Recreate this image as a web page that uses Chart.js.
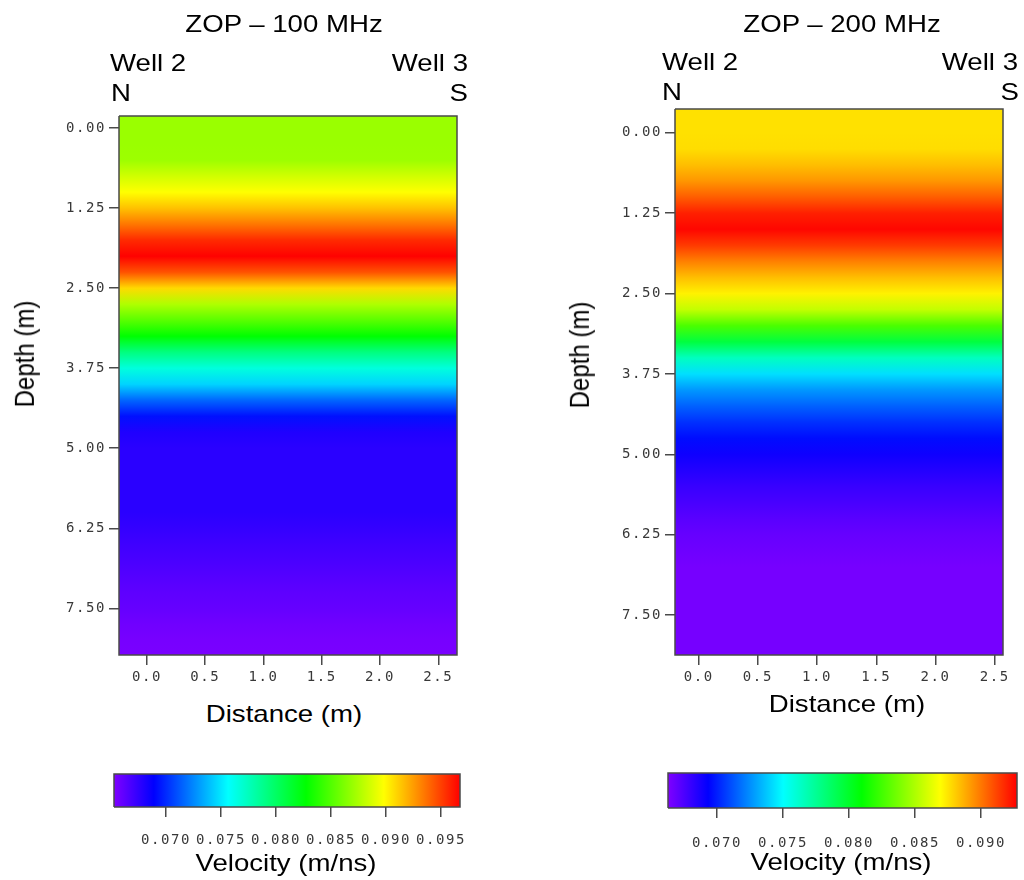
<!DOCTYPE html>
<html>
<head>
<meta charset="utf-8">
<script src="https://cdn.jsdelivr.net/npm/chart.js@4.4.0/dist/chart.umd.min.js"></script>
<style>
  body { margin: 0; background: #fff; }
  #page { position: relative; width: 1024px; height: 880px; overflow: hidden;
          font-family: "Liberation Sans", Arial, sans-serif; color: #000; }
  canvas { position: absolute; }
  .lbl { position: absolute; font-size: 24px; line-height: 24px; white-space: nowrap; }
  .c { width: 400px; text-align: center; transform: scaleX(1.15); }
  .l { transform: scaleX(1.15); transform-origin: left center; }
  .r { width: 200px; text-align: right; transform: scaleX(1.15); transform-origin: right center; }
  .v { transform: translate(-50%, -50%) rotate(-90deg) scaleY(1.15); }
</style>
</head>
<body>
<div id="page">
  <canvas id="heat100" width="500" height="700" style="left:0;top:0"></canvas>
  <canvas id="heat200" width="484" height="700" style="left:540px;top:0"></canvas>
  <canvas id="bar100" width="500" height="110" style="left:0;top:740px"></canvas>
  <canvas id="bar200" width="484" height="110" style="left:540px;top:740px"></canvas>

  <div class="lbl c" style="left:84px;top:12px">ZOP – 100 MHz</div>
  <div class="lbl l" style="left:110px;top:51px">Well 2</div>
  <div class="lbl r" style="left:268px;top:51px">Well 3</div>
  <div class="lbl l" style="left:111px;top:81px">N</div>
  <div class="lbl r" style="left:268px;top:81px">S</div>
  <div class="lbl v" style="left:25px;top:354px">Depth (m)</div>
  <div class="lbl c" style="left:84px;top:702px">Distance (m)</div>
  <div class="lbl c" style="left:86px;top:851px">Velocity (m/ns)</div>

  <div class="lbl c" style="left:642px;top:12px">ZOP – 200 MHz</div>
  <div class="lbl l" style="left:662px;top:50px">Well 2</div>
  <div class="lbl r" style="left:818px;top:50px">Well 3</div>
  <div class="lbl l" style="left:662px;top:80px">N</div>
  <div class="lbl r" style="left:819px;top:80px">S</div>
  <div class="lbl v" style="left:580px;top:355px">Depth (m)</div>
  <div class="lbl c" style="left:647px;top:692px">Distance (m)</div>
  <div class="lbl c" style="left:641px;top:850px">Velocity (m/ns)</div>
</div>
<script>
// depth samples of the 1D velocity profiles (m)
const depths = [0.00, 0.25, 0.50, 0.75, 1.00, 1.25, 1.50, 1.75, 2.00, 2.25, 2.50, 2.75,
                3.00, 3.25, 3.50, 3.75, 4.00, 4.25, 4.50, 4.75, 5.00, 5.25, 5.50, 5.75,
                6.00, 6.25, 6.50, 6.75, 7.00, 7.25, 7.50, 7.75, 8.00, 8.25];

// velocity (m/ns) at each depth, 100 MHz antennas
const vel100 = [0.0870, 0.0870, 0.0871, 0.0885, 0.0898, 0.0915, 0.0935, 0.0956, 0.0967, 0.0945,
                0.0908, 0.0876, 0.0852, 0.0827, 0.0792, 0.0766, 0.0745, 0.0716, 0.0693, 0.0680,
                0.0677, 0.0677, 0.0677, 0.0677, 0.0677, 0.0674, 0.0671, 0.0668, 0.0665, 0.0662,
                0.0660, 0.0657, 0.0655, 0.0654];

// velocity (m/ns) at each depth, 200 MHz antennas
const vel200 = [0.0876, 0.0877, 0.0884, 0.0893, 0.0906, 0.0920, 0.0926, 0.0914, 0.0898, 0.0884,
                0.0872, 0.0855, 0.0827, 0.0795, 0.0765, 0.0743, 0.0727, 0.0715, 0.0704, 0.0696,
                0.0690, 0.0685, 0.0680, 0.0676, 0.0672, 0.0669, 0.0667, 0.0665, 0.0665, 0.0665,
                0.0665, 0.0665, 0.0665, 0.0665];

// section extents [start, end]
const dist100 = [-0.24, 2.66];
const depth100 = [-0.19, 8.23];
const dist200 = [-0.20, 2.57];
const depth200 = [-0.37, 8.12];

// colour scale limits
const range100 = [0.06527, 0.09673];
const range200 = [0.06629, 0.09273];

// tick labels
const distanceTicks = [0.0, 0.5, 1.0, 1.5, 2.0, 2.5];
const depthTicks = [0.00, 1.25, 2.50, 3.75, 5.00, 6.25, 7.50];
const velTicks100 = [0.070, 0.075, 0.080, 0.085, 0.090, 0.095];
const velTicks200 = [0.070, 0.075, 0.080, 0.085, 0.090];

// rainbow colour map: violet - blue - cyan - green - yellow - red
const cmapPos = [0, 0.115, 0.33, 0.555, 0.78, 1];
const cmapRgb = [[127, 0, 255], [0, 0, 255], [0, 255, 255], [0, 255, 0], [255, 255, 0], [255, 0, 0]];

function cmap(t) {
    t = Math.min(1, Math.max(0, t));
    let i = 1;
    while (i < cmapPos.length - 1 && t > cmapPos[i]) i++;
    const f = (t - cmapPos[i - 1]) / (cmapPos[i] - cmapPos[i - 1]);
    const a = cmapRgb[i - 1], b = cmapRgb[i];
    const c = a.map((v, k) => Math.round(v + (b[k] - v) * f));
    return 'rgb(' + c.join(',') + ')';
}

const tickFont = { family: 'DejaVu Sans Mono', size: 14 };
const tickColor = '#383838';
const frameColor = '#4a4a4a';

// wider glyph spacing for the tick labels
const spacedTicks = {
    id: 'spacedTicks',
    beforeDraw(chart) { chart.ctx.letterSpacing = '1.6px'; }
};

function rect(xr, yr) {
    return [
        { x: xr[0], y: yr[0] }, { x: xr[1], y: yr[0] },
        { x: xr[1], y: yr[1] }, { x: xr[0], y: yr[1] },
        { x: xr[0], y: yr[0] }
    ];
}

function depthGradient(chart, vel, range) {
    if (!chart.chartArea) return null;
    const y = chart.scales.y;
    const d0 = depths[0], d1 = depths[depths.length - 1];
    const g = chart.ctx.createLinearGradient(0, y.getPixelForValue(d0), 0, y.getPixelForValue(d1));
    depths.forEach((d, i) => {
        g.addColorStop((d - d0) / (d1 - d0), cmap((vel[i] - range[0]) / (range[1] - range[0])));
    });
    return g;
}

function barGradient(chart) {
    if (!chart.chartArea) return null;
    const x = chart.scales.x;
    const g = chart.ctx.createLinearGradient(x.getPixelForValue(x.min), 0, x.getPixelForValue(x.max), 0);
    cmapPos.forEach((p, i) => g.addColorStop(p, 'rgb(' + cmapRgb[i].join(',') + ')'));
    return g;
}

function axisTicks(values, digits, pad, len) {
    return {
        afterBuildTicks: s => { s.ticks = values.map(v => ({ value: v })); },
        ticks: { font: tickFont, color: tickColor, padding: pad, autoSkip: false, maxRotation: 0,
                 callback: v => v.toFixed(digits) },
        grid: { drawOnChartArea: false, drawTicks: true, tickLength: len, color: frameColor, lineWidth: 1.5 },
        border: { display: false }
    };
}

function sectionChart(id, vel, range, distExt, depthExt, box) {
    return new Chart(document.getElementById(id), {
        type: 'line',
        data: {
            datasets: [{
                data: rect(distExt, depthExt),
                fill: 'shape',
                backgroundColor: c => depthGradient(c.chart, vel, range),
                borderColor: frameColor,
                borderWidth: 1.5,
                pointRadius: 0,
                tension: 0,
                clip: false
            }]
        },
        options: {
            responsive: false,
            animation: false,
            layout: { padding: { top: box.top, right: box.right, left: 0, bottom: 0 } },
            plugins: { legend: { display: false }, tooltip: { enabled: false } },
            scales: {
                x: Object.assign({
                    type: 'linear', min: distExt[0], max: distExt[1],
                    afterFit: s => { s.height = box.xAxisH; }
                }, axisTicks(distanceTicks, 1, 4, 10)),
                y: Object.assign({
                    type: 'linear', reverse: true, min: depthExt[0], max: depthExt[1],
                    afterFit: s => { s.width = box.yAxisW; }
                }, axisTicks(depthTicks, 2, 3, 10))
            }
        },
        plugins: [spacedTicks]
    });
}

function colorbarChart(id, range, ticks, box) {
    return new Chart(document.getElementById(id), {
        type: 'line',
        data: {
            datasets: [{
                data: rect(range, [0, 1]),
                fill: 'shape',
                backgroundColor: c => barGradient(c.chart),
                borderColor: frameColor,
                borderWidth: 1.5,
                pointRadius: 0,
                tension: 0,
                clip: false
            }]
        },
        options: {
            responsive: false,
            animation: false,
            layout: { padding: { top: box.top, left: box.left, right: box.right, bottom: 0 } },
            plugins: { legend: { display: false }, tooltip: { enabled: false } },
            scales: {
                x: Object.assign({
                    type: 'linear', min: range[0], max: range[1],
                    afterFit: s => { s.height = box.xAxisH; }
                }, axisTicks(ticks, 3, box.pad, 10)),
                y: { type: 'linear', min: 0, max: 1, display: false }
            }
        },
        plugins: [spacedTicks]
    });
}

sectionChart('heat100', vel100, range100, dist100, depth100,
    { top: 116, right: 43, xAxisH: 45, yAxisW: 119 });
sectionChart('heat200', vel200, range200, dist200, depth200,
    { top: 109, right: 21, xAxisH: 45, yAxisW: 135 });
colorbarChart('bar100', range100, velTicks100, { top: 34, left: 114, right: 40, xAxisH: 43, pad: 15 });
colorbarChart('bar200', range200, velTicks200, { top: 33, left: 128, right: 7, xAxisH: 42, pad: 17 });
</script>
</body>
</html>
